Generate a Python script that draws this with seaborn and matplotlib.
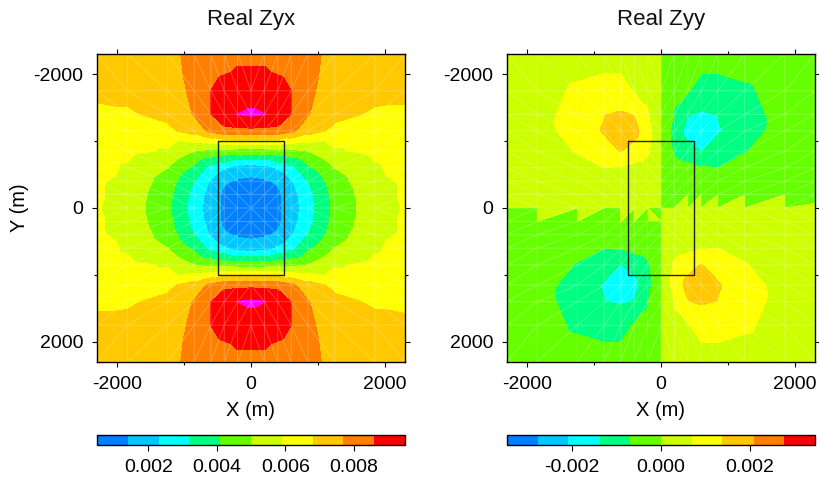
import numpy as np
import matplotlib
matplotlib.use('Agg')
import matplotlib.pyplot as plt
import matplotlib.tri as mtri
from matplotlib.cm import ScalarMappable
from matplotlib.colors import ListedColormap, BoundaryNorm
import seaborn as sns

# mesh nodes (m)
x_nodes = [-2300, -1850, -1250, -850, -600, -400, -200, 0, 200, 400, 600, 850, 1250, 1850, 2300]
y_nodes = [-2300, -1750, -1400, -1150, -850, -600, -400, -200, 0, 200, 400, 600, 850, 1150, 1400, 1750, 2300]

# values, units of 1e-4, one row per y node
zyx_vals = [
    [71, 72, 74, 80, 81, 82, 84, 84, 84, 82, 81, 80, 74, 72, 71],
    [70, 70, 72, 79, 86, 89, 90, 90, 90, 89, 86, 79, 72, 70, 69.5],
    [66, 67, 70, 77.5, 86, 93, 95.1, 96.5, 95.1, 93, 86, 77.5, 70, 67, 67],
    [63, 63, 66, 72, 79, 83, 84, 84, 84, 83, 79, 72, 66, 63, 63],
    [62, 61, 58, 50, 48, 47, 46, 46, 46, 47, 48, 50, 58, 61, 62],
    [62, 58, 50, 39, 29, 24, 19, 18, 19, 24, 29, 39, 50, 58, 62],
    [60, 57, 46, 32, 22, 15, 13, 12, 13, 15, 22, 32, 46, 57, 60],
    [60, 56, 44, 29, 19, 12, 10, 9, 10, 12, 19, 29, 44, 56, 60],
    [59.5, 56, 43, 28, 18, 12, 10, 9, 10, 12, 18, 28, 43, 56, 59.5],
    [60, 56, 44, 29, 19, 12, 10, 9, 10, 12, 19, 29, 44, 56, 60],
    [60, 57, 46, 32, 22, 15, 13, 12, 13, 15, 22, 32, 46, 57, 60],
    [62, 58, 50, 39, 29, 24, 19, 18, 19, 24, 29, 39, 50, 58, 62],
    [62, 61, 58, 50, 48, 47, 46, 46, 46, 47, 48, 50, 58, 61, 62],
    [63, 63, 66, 72, 79, 83, 84, 84, 84, 83, 79, 72, 66, 63, 63],
    [67, 67, 70, 77.5, 86, 93, 95.1, 96.5, 95.1, 93, 86, 77.5, 70, 67, 66],
    [69.5, 70, 72, 79, 86, 89, 90, 90, 90, 89, 86, 79, 72, 70, 70],
    [71, 72, 74, 80, 81, 82, 84, 84, 84, 82, 81, 80, 74, 72, 71],
]
zyy_vals = [
    [2, 2.5, 3.5, 4.5, 4.5, 3, 2, 0, -2, -3, -4.5, -4.5, -3.5, -2.5, -2],
    [2.5, 4, 8, 9, 9, 6.5, 5.5, 0, -5.5, -6.5, -9, -9, -8, -4, -2.5],
    [3, 5, 9, 13.5, 14.5, 13.5, 7.5, 0, -7.5, -13.5, -14.5, -13.5, -9, -5, -3],
    [3, 4.5, 9.5, 14.5, 20, 16, 10, 0, -10, -16, -20, -14.5, -9.5, -4.5, -3],
    [3, 4, 7.3, 11, 14, 11, 8, 0, -8, -11, -14, -11, -7.3, -4, -3],
    [2, 3, 5, 6.9, 6.5, 5, 4, 0, -4, -5, -6.5, -6.9, -5, -3, -2],
    [1.5, 2, 3, 3.5, 3.5, 3, 2, 0, -2, -3, -3.5, -3.5, -3, -2, -1.5],
    [0.5, 0.8, 1, 1.2, 1.2, 1, 0.8, 0, -0.8, -1, -1.2, -1.2, -1, -0.8, -6],
    [0, 0, 0, 0, 0, 0, 0, 0, 0, 0, 0, 0, 0, 0, 3],
    [-0.5, -0.8, -1, -1.2, -1.2, -1, -0.8, 0, 0.8, 1, 1.2, 1.2, 1, 0.8, 0.5],
    [-1.5, -2, -3, -3.5, -3.5, -3, -2, 0, 2, 3, 3.5, 3.5, 3, 2, 1.5],
    [-2, -3, -5, -6.9, -6.5, -5, -4, 0, 4, 5, 6.5, 6.9, 5, 3, 2],
    [-3, -4, -7.3, -11, -14, -11, -8, 0, 8, 11, 14, 11, 7.3, 4, 3],
    [-3, -4.5, -9.5, -14.5, -20, -16, -10, 0, 10, 16, 20, 14.5, 9.5, 4.5, 3],
    [-3, -5, -9, -13.5, -14.5, -13.5, -7.5, 0, 7.5, 13.5, 14.5, 13.5, 9, 5, 3],
    [-2.5, -4, -8, -9, -9, -6.5, -5.5, 0, 5.5, 6.5, 9, 9, 8, 4, 2.5],
    [-2, -2.5, -3.5, -4.5, -4.5, -3, -2, 0, 2, 3, 4.5, 4.5, 3.5, 2.5, 2],
]
# mesh cells along y=0 that the original plots on the other side of zero: (ix, iy) corners
flip_cells = [
    [(8, 8), (9, 8), (9, 7)], [(9, 8), (10, 8), (10, 7)], [(10, 8), (11, 8), (11, 7)],
    [(11, 8), (12, 8), (12, 7)], [(12, 8), (13, 8), (13, 7)],
    [(1, 8), (1, 9), (2, 8)], [(2, 8), (2, 9), (3, 8)], [(4, 8), (4, 9), (5, 8)],
    [(5, 8), (5, 9), (6, 8)], [(6, 8), (6, 9), (7, 9)],
]
flip_vals = [3, 3, 3, 3, 3, 3, 3, 3, 3, 3]

zyx_levels = [0.0005, 0.0014, 0.0023, 0.0032, 0.0041, 0.0050, 0.0059, 0.0068, 0.0077, 0.0086, 0.0095]
zyy_levels = [-0.00346, -0.00277, -0.00208, -0.00138, -0.00069, 0.0, 0.00069, 0.00138, 0.00208, 0.00277, 0.00346]
zyx_ticks = [0.002, 0.004, 0.006, 0.008]
zyy_ticks = [-0.002, 0.0, 0.002]
band_colors = ['#0080ff', '#00c8ff', '#00ffff', '#00ff80', '#66ff00',
               '#ccff00', '#ffff00', '#ffc800', '#ff8000', '#ff0000']
body_x = [-500, 500, 500, -500, -500]
body_y = [-1000, -1000, 1000, 1000, -1000]

W, H = 819, 478
sns.set_theme(style='ticks')
plt.rcParams['font.family'] = ['Liberation Sans', 'DejaVu Sans']
plt.rcParams['axes.unicode_minus'] = False

cmap = ListedColormap(sns.color_palette(band_colors))
cmap.set_over('#ff00ff')

# triangles of the mesh, diagonals run towards the centre
X, Y = np.meshgrid(x_nodes, y_nodes)
nx, ny = len(x_nodes), len(y_nodes)
tris = []
for j in range(ny - 1):
    for i in range(nx - 1):
        a, b = j * nx + i, j * nx + i + 1
        c, d = (j + 1) * nx + i, (j + 1) * nx + i + 1
        if (x_nodes[i] + x_nodes[i + 1]) * (y_nodes[j] + y_nodes[j + 1]) > 0:
            tris += [[a, b, d], [a, d, c]]
        else:
            tris += [[a, b, c], [b, d, c]]
mesh = mtri.Triangulation(X.ravel(), Y.ravel(), tris)


def panel(left, vals, levels, ticks, title):
    ax = fig.add_axes([left / W, 1 - 362 / H, 308 / W, 308 / H])
    norm = BoundaryNorm(levels, 10)
    z = np.array(vals, dtype=float).ravel() * 1e-4
    ax.tricontourf(mesh, z, levels=levels, cmap=cmap, norm=norm, extend='max')
    if title == 'Real Zyy':
        flips = [[iy * nx + ix for ix, iy in cell] for cell in flip_cells]
        flip_tri = mtri.Triangulation(X.ravel(), Y.ravel(), flips)
        ax.tripcolor(flip_tri, facecolors=np.array(flip_vals) * 1e-4, cmap=cmap, norm=norm,
                     edgecolors='none')
    ax.triplot(mesh, color='white', lw=0.6, alpha=0.28)
    ax.plot(body_x, body_y, color='#222222', lw=1)
    ax.set_xlim(-2300, 2300)
    ax.set_ylim(2300, -2300)
    ax.set_xticks([-2000, 0, 2000])
    ax.set_yticks([-2000, 0, 2000])
    ax.set_xticks([-1000, 1000], minor=True)
    ax.set_yticks([-1000, 1000], minor=True)
    ax.tick_params(which='major', top=True, right=True, length=3.5, width=0.8, labelsize=14,
                   pad=6.5, color='black', labelcolor='black')
    ax.tick_params(which='minor', top=True, right=True, length=2, width=0.8, color='black')
    for s in ax.spines.values():
        s.set_linewidth(1)
        s.set_color('black')
    ax.set_xlabel('X (m)', fontsize=14.5, labelpad=6, color='black')
    ax.set_title(title, fontsize=16, pad=21, color='#111111')

    cax = fig.add_axes([left / W, 1 - 445 / H, 308 / W, 10 / H])
    cb = fig.colorbar(ScalarMappable(norm=norm, cmap=cmap), cax=cax, orientation='horizontal',
                      spacing='proportional', ticks=ticks, format='%.3f')
    cb.ax.minorticks_off()
    cb.ax.tick_params(length=4, width=0.8, labelsize=14, pad=6, color='black', labelcolor='black')
    cb.outline.set_linewidth(1)
    cb.outline.set_edgecolor('black')
    return ax


fig = plt.figure(figsize=(W / 100, H / 100), dpi=100)
ax1 = panel(97, zyx_vals, zyx_levels, zyx_ticks, 'Real Zyx')
ax2 = panel(507, zyy_vals, zyy_levels, zyy_ticks, 'Real Zyy')
ax1.set_ylabel('Y (m)', fontsize=14.5, labelpad=3, color='black')

fig.savefig('out.png', dpi=100)
